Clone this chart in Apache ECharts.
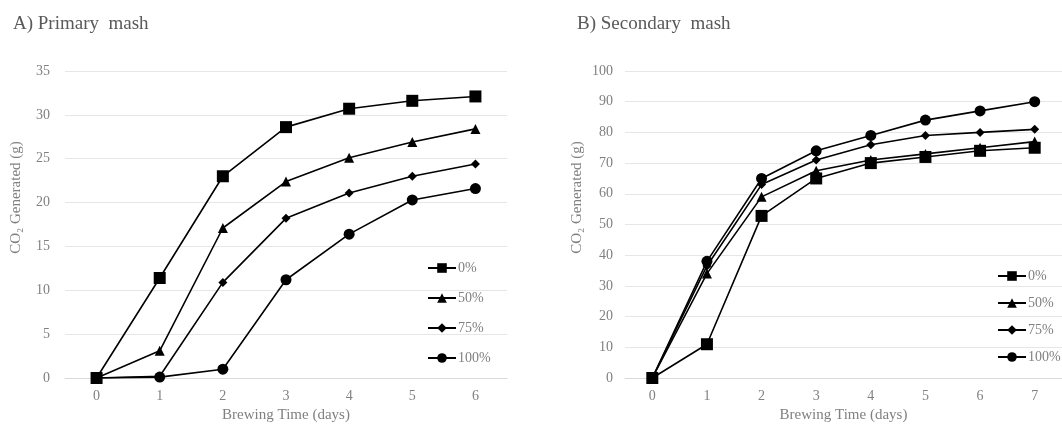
<!DOCTYPE html>
<html><head><meta charset="utf-8">
<script src="https://cdn.jsdelivr.net/npm/echarts@6/dist/echarts.min.js"></script>
<style>html,body{margin:0;padding:0;background:#fff}#c{width:1062px;height:428px}</style>
</head><body><div id="c"></div>
<script>
var seriesNames = ['0%', '50%', '75%', '100%'];
var symbols = ['rect', 'triangle', 'diamond', 'circle'];
var symbolSizes = [12, 10, 9, 11];

var daysA = ['0', '1', '2', '3', '4', '5', '6'];
var a0 = [0, 11.4, 23.0, 28.6, 30.7, 31.6, 32.1];
var a50 = [0, 3.1, 17.1, 22.4, 25.1, 26.9, 28.4];
var a75 = [0, 0.2, 10.9, 18.2, 21.1, 23.0, 24.4];
var a100 = [0, 0.1, 1.0, 11.2, 16.4, 20.3, 21.6];

var daysB = ['0', '1', '2', '3', '4', '5', '6', '7'];
var b0 = [0, 11, 52.8, 65, 70, 72, 74, 75];
var b50 = [0, 34, 59, 67.5, 71, 73, 75, 77];
var b75 = [0, 36.5, 63, 71, 76, 79, 80, 81];
var b100 = [0, 38, 65, 74, 79, 84, 87, 90];

var yTicksA = {min: 0, max: 35, interval: 5};
var yTicksB = {min: 0, max: 100, interval: 10};

var font = '"Liberation Serif", "DejaVu Serif", serif';
var gray = '#808080';

function mkSeries(data, axisIdx) {
  return data.map(function (d, i) {
    return {
      name: seriesNames[i], type: 'line', data: d,
      xAxisIndex: axisIdx, yAxisIndex: axisIdx,
      symbol: symbols[i], symbolSize: symbolSizes[i],
      showAllSymbol: true,
      lineStyle: {color: '#000', width: 1.6},
      itemStyle: {color: '#000'},
      emphasis: {disabled: true}, animation: false
    };
  });
}

function xAx(cats, idx) {
  return {
    type: 'category', data: cats, gridIndex: idx, boundaryGap: true,
    name: 'Brewing Time (days)', nameLocation: 'middle', nameGap: 30,
    nameTextStyle: {fontFamily: font, fontSize: 15, color: gray},
    axisLine: {lineStyle: {color: '#d9d9d9'}}, axisTick: {show: false},
    axisLabel: {fontFamily: font, fontSize: 14, color: gray, margin: 11}
  };
}
function yAx(t, idx, margin, gap) {
  return {
    type: 'value', gridIndex: idx, min: t.min, max: t.max, interval: t.interval,
    name: 'CO\u2082 Generated (g)', nameLocation: 'middle', nameGap: gap, nameRotate: 90,
    nameTextStyle: {fontFamily: font, fontSize: 15, color: gray, padding: [0, 0, 0, 54]},
    axisLine: {show: false}, axisTick: {show: false},
    splitLine: {lineStyle: {color: '#e6e6e6'}},
    axisLabel: {fontFamily: font, fontSize: 14, color: gray, margin: margin}
  };
}
function leg(left, top, gap) {
  return {
    orient: 'vertical', left: left, top: top, itemGap: gap,
    itemWidth: 28, itemHeight: 12, data: seriesNames, selectedMode: false,
    textStyle: {fontFamily: font, fontSize: 14, color: gray, padding: [0, 0, 0, -3]}
  };
}

var chart = echarts.init(document.getElementById('c'), null, {renderer: 'canvas'});
chart.setOption({
  backgroundColor: '#fff',
  animation: false,
  title: [
    {text: 'A) Primary  mash', left: 8, top: 10, textStyle: {fontFamily: font, fontSize: 19, fontWeight: 'normal', color: '#595959'}},
    {text: 'B) Secondary  mash', left: 572, top: 10, textStyle: {fontFamily: font, fontSize: 19, fontWeight: 'normal', color: '#595959'}}
  ],
  grid: [
    {left: 65, top: 71, width: 442, height: 309},
    {left: 625, top: 71, width: 440, height: 309}
  ],
  legend: [leg(422, 256, 16), leg(992, 264, 13)],
  xAxis: [xAx(daysA, 0), xAx(daysB, 1)],
  yAxis: [yAx(yTicksA, 0, 15, 41), yAx(yTicksB, 1, 12, 40)],
  series: mkSeries([a0, a50, a75, a100], 0).concat(mkSeries([b0, b50, b75, b100], 1))
});
</script>
</body></html>
